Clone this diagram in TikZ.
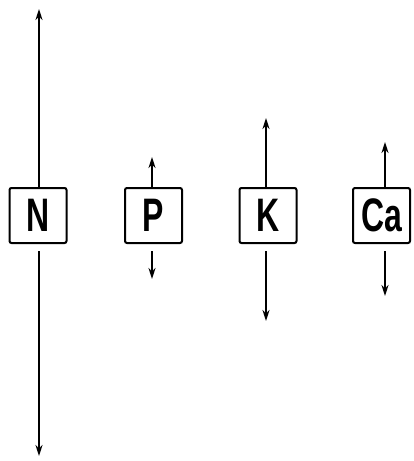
\documentclass[tikz,border=0pt]{standalone}
\usepackage{fontspec}
\newfontfamily\elemfont{Liberation Sans Bold}[FakeStretch=0.68]
\usetikzlibrary{arrows.meta}
\begin{document}
\begin{tikzpicture}[x=1pt,y=-1pt,
  elembox/.style={draw,line width=2pt,rounded corners=2pt,minimum width=57pt,
    minimum height=55pt,inner sep=0pt,font=\elemfont\fontsize{47}{47}\selectfont},
  flux/.style={line width=1.9pt,-{Stealth[length=11pt,width=7pt]}}]
  \useasboundingbox (0,0) rectangle (414,461);
  % nutrient boxes
  \node[elembox] (N)  at (38,215.5)    {N};
  \node[elembox] (P)  at (153.5,215.5) {P};
  \node[elembox] (K)  at (268,215.5)   {K};
  \node[elembox] (Ca) at (381.5,215.5) {Ca};
  % arrow tips
  \coordinate (Nt) at (39,9);    \coordinate (Nb) at (39,456);
  \coordinate (Pt) at (152,157); \coordinate (Pb) at (152,279);
  \coordinate (Kt) at (266,118); \coordinate (Kb) at (266,321);
  \coordinate (Cat) at (385,142);\coordinate (Cab) at (385,296);
  % upward and downward fluxes
  \foreach \e in {N,P,K,Ca}{
    \draw[flux] (\e.north -| \e t) -- (\e t);
    \draw[flux] ([yshift=-7pt]\e.south -| \e b) -- (\e b);
  }
\end{tikzpicture}
\end{document}
